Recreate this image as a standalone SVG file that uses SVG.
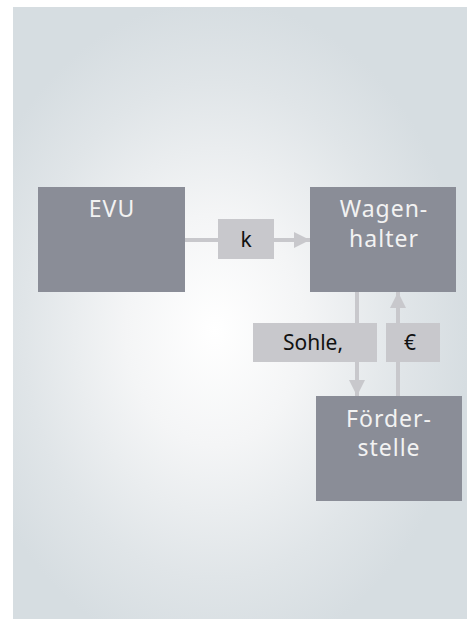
<svg xmlns="http://www.w3.org/2000/svg" width="467" height="619" viewBox="0 0 467 619">
<defs>
<radialGradient id="bg" cx="215" cy="330" r="300" gradientUnits="userSpaceOnUse" gradientTransform="translate(215 330) scale(0.85 1.1) translate(-215 -330)">
<stop offset="0" stop-color="#ffffff"/>
<stop offset="0.35" stop-color="#f4f5f6"/>
<stop offset="0.75" stop-color="#e0e5e8"/>
<stop offset="1" stop-color="#d6dde1"/>
</radialGradient>
<marker id="ah" viewBox="0 0 4 4" refX="4" refY="2" markerWidth="4" markerHeight="4" orient="auto" markerUnits="strokeWidth">
<path d="M0,0 L4,2 L0,4 Z" fill="#c8c8cc"/>
</marker>
<style>
.node{fill:#8a8d97}
.ntext{font-family:"Noto Sans","DejaVu Sans",sans-serif;font-size:23px;fill:#f2f2f2;text-anchor:middle;letter-spacing:1px}
.lbl{fill:#c8c8cc}
.ltext{font-family:"Noto Sans","DejaVu Sans",sans-serif;font-size:21px;fill:#111111;text-anchor:middle}
.conn{stroke:#c8c8cc;stroke-width:4;fill:none}
</style>
</defs>
<rect x="13" y="7" width="454" height="612" fill="url(#bg)"/>
<g id="connectors">
<line class="conn" x1="185" y1="240" x2="310" y2="240" marker-end="url(#ah)"/>
<line class="conn" x1="357" y1="292" x2="357" y2="396" marker-end="url(#ah)"/>
<line class="conn" x1="398" y1="396" x2="398" y2="292" marker-end="url(#ah)"/>
</g>
<g id="label-k">
<rect class="lbl" x="218" y="219" width="56" height="40"/>
<text class="ltext" x="246" y="247">k</text>
</g>
<g id="label-sohle">
<rect class="lbl" x="253" y="323" width="124" height="39"/>
<text class="ltext" x="313" y="350">Sohle,</text>
</g>
<g id="label-euro">
<rect class="lbl" x="386" y="323" width="54" height="39"/>
<text class="ltext" x="410" y="350">€</text>
</g>
<g id="evu">
<rect class="node" x="38" y="187" width="147" height="105"/>
<text class="ntext" x="112" y="217">EVU</text>
</g>
<g id="wagenhalter">
<rect class="node" x="310" y="187" width="146" height="105"/>
<text class="ntext" x="384" y="217">Wagen-</text>
<text class="ntext" x="384" y="247">halter</text>
</g>
<g id="foerderstelle">
<rect class="node" x="316" y="396" width="146" height="105"/>
<text class="ntext" x="389" y="427">Förder-</text>
<text class="ntext" x="389" y="456">stelle</text>
</g>
</svg>
